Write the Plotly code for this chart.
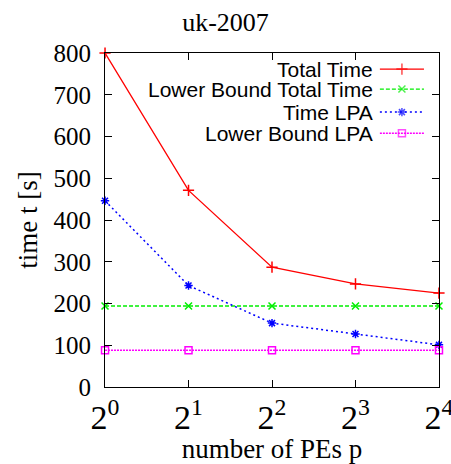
import plotly.graph_objects as go

title = "uk-2007"
pes = [1, 2, 4, 8, 16]
x_ticktext = ["2<sup>0</sup>", "2<sup>1</sup>", "2<sup>2</sup>", "2<sup>3</sup>", "2<sup>4</sup>"]
y_ticks = [0, 100, 200, 300, 400, 500, 600, 700, 800]

total_time = [800, 471, 287, 247, 225]
lb_total_time = [194, 194, 194, 194, 194]
time_lpa = [446, 243, 153, 127, 101]
lb_lpa = [88, 88, 88, 88, 88]

names = ["Total Time", "Lower Bound Total Time", "Time LPA", "Lower Bound LPA"]
series = [total_time, lb_total_time, time_lpa, lb_lpa]
colors = ["#ff0000", "#00ee00", "#0000ff", "#ff00ff"]
dashes = ["solid", "4px,2px", "2px,3px", "2px,1px"]
widths = [1.3, 1.3, 1.5, 1.5]
symbols = ["cross-thin-open", "x-thin-open", "asterisk-open", "square-open"]
msizes = [8, 7, 7, 7]

SERIF = "Liberation Serif, Times New Roman, serif"
SANS = "Liberation Sans, Arial, sans-serif"

fig = go.Figure()
for n, s, c, d, w, sym, ms in zip(names, series, colors, dashes, widths, symbols, msizes):
    fig.add_trace(go.Scatter(
        x=pes, y=s, name=n, mode="lines+markers",
        line=dict(color=c, width=w, dash=d),
        marker=dict(symbol=sym, size=ms, color=c, line=dict(color=c, width=1.5)),
        showlegend=False, cliponaxis=False,
    ))

# gnuplot-style legend (text right-aligned, sample on the right)
leg_y = [0.952, 0.892, 0.823, 0.760]
for n, c, d, w, sym, ms, yy in zip(names, colors, dashes, widths, symbols, msizes, leg_y):
    fig.add_trace(go.Scatter(
        x=[0.823, 0.889, 0.955], y=[yy, yy, yy], mode="lines+markers",
        line=dict(color=c, width=w, dash=d),
        marker=dict(symbol=sym, size=[0, ms, 0], color=c, line=dict(color=c, width=1.5)),
        xaxis="x2", yaxis="y2", showlegend=False, hoverinfo="skip",
    ))
    fig.add_annotation(
        x=0.808, y=yy, xref="paper", yref="paper", text=n, showarrow=False,
        xanchor="right", yanchor="middle",
        font=dict(family=SANS, size=21, color="black"),
    )

axis_common = dict(
    showline=True, linecolor="black", linewidth=1, mirror="ticks",
    ticks="inside", ticklen=7, tickcolor="black", showgrid=False, zeroline=False,
    automargin=False, ticklabeloverflow="allow",
)
fig.update_layout(
    width=451, height=464,
    margin=dict(l=105, r=12, t=53, b=77),
    paper_bgcolor="white", plot_bgcolor="white",
    title=dict(text=title, x=0.5, xanchor="center", y=1 - 22 / 464, yanchor="middle",
               yref="container",
               font=dict(family=SERIF, size=26, color="black")),
    xaxis=dict(type="log", range=[-0.0001, 1.2042], tickvals=pes, ticktext=x_ticktext,
               tickfont=dict(family=SERIF, size=34, color="black"),
               title=dict(text="number of PEs p", standoff=4,
                          font=dict(family=SERIF, size=27, color="black")),
               **axis_common),
    yaxis=dict(range=[0, 800], tickvals=y_ticks, ticklabelstandoff=8,
               tickfont=dict(family=SERIF, size=25, color="black"),
               title=dict(text="time t [s]", standoff=8,
                          font=dict(family=SERIF, size=27, color="black")),
               **axis_common),
    xaxis2=dict(overlaying="x", range=[0, 1], visible=False),
    yaxis2=dict(overlaying="y", range=[0, 1], visible=False),
    font=dict(family=SERIF, color="black"),
)

fig.write_html("out.html", config={"displayModeBar": False},
               post_script="document.body.style.margin='0px';document.body.style.overflow='hidden';")
